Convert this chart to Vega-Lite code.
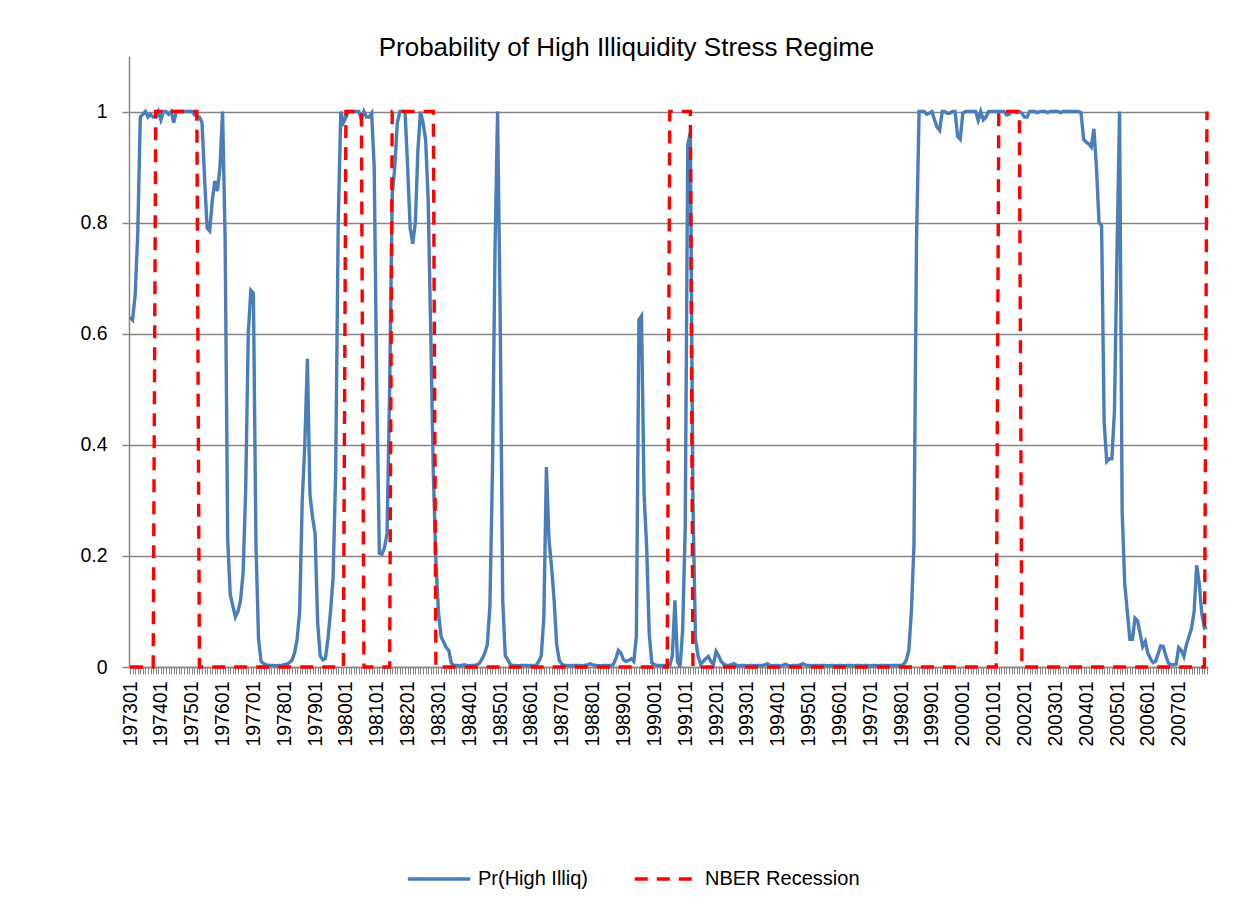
{
  "$schema": "https://vega.github.io/schema/vega-lite/v6.json",
  "width": 1079,
  "height": 611,
  "autosize": "none",
  "padding": {"left": 129, "top": 56, "right": 38, "bottom": 243},
  "background": "white",
  "config": {"view": {"stroke": null}, "font": "Liberation Sans"},
  "title": {"text": "Probability of High Illiquidity Stress Regime", "fontSize": 26, "font": "Liberation Sans", "fontWeight": "normal", "color": "#000000", "anchor": "middle", "dx": -42, "dy": 25, "baseline": "alphabetic", "offset": -1},
  "data": {"values": [
{"m":"197301","p":0.63,"r":0},{"m":"197302","p":0.625,"r":0},{"m":"197303","p":0.67,"r":0},{"m":"197304","p":0.78,"r":0},{"m":"197305","p":0.99,"r":0},{"m":"197306","p":0.995,"r":0},{"m":"197307","p":1,"r":0},{"m":"197308","p":0.99,"r":0},{"m":"197309","p":0.995,"r":0},{"m":"197310","p":0.99,"r":0},{"m":"197311","p":0.99,"r":1},{"m":"197312","p":1,"r":1},
{"m":"197401","p":0.985,"r":1},{"m":"197402","p":1,"r":1},{"m":"197403","p":1,"r":1},{"m":"197404","p":0.995,"r":1},{"m":"197405","p":1,"r":1},{"m":"197406","p":0.98,"r":1},{"m":"197407","p":1,"r":1},{"m":"197408","p":1,"r":1},{"m":"197409","p":1,"r":1},{"m":"197410","p":1,"r":1},{"m":"197411","p":1,"r":1},{"m":"197412","p":1,"r":1},
{"m":"197501","p":1,"r":1},{"m":"197502","p":0.995,"r":1},{"m":"197503","p":0.99,"r":1},{"m":"197504","p":0.99,"r":0},{"m":"197505","p":0.98,"r":0},{"m":"197506","p":0.88,"r":0},{"m":"197507","p":0.79,"r":0},{"m":"197508","p":0.785,"r":0},{"m":"197509","p":0.84,"r":0},{"m":"197510","p":0.875,"r":0},{"m":"197511","p":0.857,"r":0},{"m":"197512","p":0.9,"r":0},
{"m":"197601","p":1,"r":0},{"m":"197602","p":0.77,"r":0},{"m":"197603","p":0.23,"r":0},{"m":"197604","p":0.13,"r":0},{"m":"197605","p":0.11,"r":0},{"m":"197606","p":0.09,"r":0},{"m":"197607","p":0.1,"r":0},{"m":"197608","p":0.12,"r":0},{"m":"197609","p":0.17,"r":0},{"m":"197610","p":0.32,"r":0},{"m":"197611","p":0.6,"r":0},{"m":"197612","p":0.678,"r":0},
{"m":"197701","p":0.673,"r":0},{"m":"197702","p":0.22,"r":0},{"m":"197703","p":0.05,"r":0},{"m":"197704","p":0.01,"r":0},{"m":"197705","p":0.006,"r":0},{"m":"197706","p":0.004,"r":0},{"m":"197707","p":0.003,"r":0},{"m":"197708","p":0.003,"r":0},{"m":"197709","p":0.003,"r":0},{"m":"197710","p":0.002,"r":0},{"m":"197711","p":0.003,"r":0},{"m":"197712","p":0.003,"r":0},
{"m":"197801","p":0.004,"r":0},{"m":"197802","p":0.005,"r":0},{"m":"197803","p":0.008,"r":0},{"m":"197804","p":0.012,"r":0},{"m":"197805","p":0.025,"r":0},{"m":"197806","p":0.05,"r":0},{"m":"197807","p":0.1,"r":0},{"m":"197808","p":0.3,"r":0},{"m":"197809","p":0.4,"r":0},{"m":"197810","p":0.555,"r":0},{"m":"197811","p":0.31,"r":0},{"m":"197812","p":0.27,"r":0},
{"m":"197901","p":0.24,"r":0},{"m":"197902","p":0.08,"r":0},{"m":"197903","p":0.02,"r":0},{"m":"197904","p":0.013,"r":0},{"m":"197905","p":0.015,"r":0},{"m":"197906","p":0.05,"r":0},{"m":"197907","p":0.1,"r":0},{"m":"197908","p":0.16,"r":0},{"m":"197909","p":0.35,"r":0},{"m":"197910","p":0.8,"r":0},{"m":"197911","p":1,"r":0},{"m":"197912","p":0.98,"r":0},
{"m":"198001","p":0.99,"r":1},{"m":"198002","p":1,"r":1},{"m":"198003","p":1,"r":1},{"m":"198004","p":1,"r":1},{"m":"198005","p":1,"r":1},{"m":"198006","p":1,"r":1},{"m":"198007","p":0.987,"r":1},{"m":"198008","p":1,"r":0},{"m":"198009","p":0.99,"r":0},{"m":"198010","p":0.99,"r":0},{"m":"198011","p":0.997,"r":0},{"m":"198012","p":0.9,"r":0},
{"m":"198101","p":0.5,"r":0},{"m":"198102","p":0.205,"r":0},{"m":"198103","p":0.203,"r":0},{"m":"198104","p":0.215,"r":0},{"m":"198105","p":0.24,"r":0},{"m":"198106","p":0.5,"r":0},{"m":"198107","p":0.85,"r":1},{"m":"198108","p":0.9,"r":1},{"m":"198109","p":0.98,"r":1},{"m":"198110","p":1,"r":1},{"m":"198111","p":1,"r":1},{"m":"198112","p":1,"r":1},
{"m":"198201","p":0.9,"r":1},{"m":"198202","p":0.79,"r":1},{"m":"198203","p":0.762,"r":1},{"m":"198204","p":0.8,"r":1},{"m":"198205","p":0.93,"r":1},{"m":"198206","p":1,"r":1},{"m":"198207","p":0.98,"r":1},{"m":"198208","p":0.95,"r":1},{"m":"198209","p":0.84,"r":1},{"m":"198210","p":0.6,"r":1},{"m":"198211","p":0.35,"r":1},{"m":"198212","p":0.19,"r":0},
{"m":"198301","p":0.1,"r":0},{"m":"198302","p":0.055,"r":0},{"m":"198303","p":0.045,"r":0},{"m":"198304","p":0.035,"r":0},{"m":"198305","p":0.03,"r":0},{"m":"198306","p":0.007,"r":0},{"m":"198307","p":0.003,"r":0},{"m":"198308","p":0.003,"r":0},{"m":"198309","p":0.002,"r":0},{"m":"198310","p":0.003,"r":0},{"m":"198311","p":0.004,"r":0},{"m":"198312","p":0.003,"r":0},
{"m":"198401","p":0.002,"r":0},{"m":"198402","p":0.003,"r":0},{"m":"198403","p":0.003,"r":0},{"m":"198404","p":0.004,"r":0},{"m":"198405","p":0.007,"r":0},{"m":"198406","p":0.015,"r":0},{"m":"198407","p":0.025,"r":0},{"m":"198408","p":0.04,"r":0},{"m":"198409","p":0.108,"r":0},{"m":"198410","p":0.35,"r":0},{"m":"198411","p":0.75,"r":0},{"m":"198412","p":1,"r":0},
{"m":"198501","p":0.64,"r":0},{"m":"198502","p":0.12,"r":0},{"m":"198503","p":0.02,"r":0},{"m":"198504","p":0.013,"r":0},{"m":"198505","p":0.004,"r":0},{"m":"198506","p":0.003,"r":0},{"m":"198507","p":0.003,"r":0},{"m":"198508","p":0.002,"r":0},{"m":"198509","p":0.003,"r":0},{"m":"198510","p":0.003,"r":0},{"m":"198511","p":0.003,"r":0},{"m":"198512","p":0.002,"r":0},
{"m":"198601","p":0.003,"r":0},{"m":"198602","p":0.003,"r":0},{"m":"198603","p":0.003,"r":0},{"m":"198604","p":0.01,"r":0},{"m":"198605","p":0.02,"r":0},{"m":"198606","p":0.09,"r":0},{"m":"198607","p":0.36,"r":0},{"m":"198608","p":0.23,"r":0},{"m":"198609","p":0.18,"r":0},{"m":"198610","p":0.12,"r":0},{"m":"198611","p":0.04,"r":0},{"m":"198612","p":0.012,"r":0},
{"m":"198701","p":0.005,"r":0},{"m":"198702","p":0.003,"r":0},{"m":"198703","p":0.003,"r":0},{"m":"198704","p":0.002,"r":0},{"m":"198705","p":0.003,"r":0},{"m":"198706","p":0.003,"r":0},{"m":"198707","p":0.003,"r":0},{"m":"198708","p":0.003,"r":0},{"m":"198709","p":0.002,"r":0},{"m":"198710","p":0.003,"r":0},{"m":"198711","p":0.004,"r":0},{"m":"198712","p":0.006,"r":0},
{"m":"198801","p":0.004,"r":0},{"m":"198802","p":0.003,"r":0},{"m":"198803","p":0.003,"r":0},{"m":"198804","p":0.002,"r":0},{"m":"198805","p":0.003,"r":0},{"m":"198806","p":0.003,"r":0},{"m":"198807","p":0.003,"r":0},{"m":"198808","p":0.003,"r":0},{"m":"198809","p":0.004,"r":0},{"m":"198810","p":0.015,"r":0},{"m":"198811","p":0.03,"r":0},{"m":"198812","p":0.025,"r":0},
{"m":"198901","p":0.013,"r":0},{"m":"198902","p":0.01,"r":0},{"m":"198903","p":0.012,"r":0},{"m":"198904","p":0.015,"r":0},{"m":"198905","p":0.01,"r":0},{"m":"198906","p":0.055,"r":0},{"m":"198907","p":0.625,"r":0},{"m":"198908","p":0.632,"r":0},{"m":"198909","p":0.31,"r":0},{"m":"198910","p":0.216,"r":0},{"m":"198911","p":0.06,"r":0},{"m":"198912","p":0.008,"r":0},
{"m":"199001","p":0.004,"r":0},{"m":"199002","p":0.003,"r":0},{"m":"199003","p":0.003,"r":0},{"m":"199004","p":0.003,"r":0},{"m":"199005","p":0.003,"r":0},{"m":"199006","p":0.003,"r":0},{"m":"199007","p":0.003,"r":1},{"m":"199008","p":0.02,"r":1},{"m":"199009","p":0.12,"r":1},{"m":"199010","p":0.01,"r":1},{"m":"199011","p":0,"r":1},{"m":"199012","p":0.066,"r":1},
{"m":"199101","p":0.25,"r":1},{"m":"199102","p":0.94,"r":1},{"m":"199103","p":0.962,"r":1},{"m":"199104","p":0.3,"r":0},{"m":"199105","p":0.05,"r":0},{"m":"199106","p":0.02,"r":0},{"m":"199107","p":0.005,"r":0},{"m":"199108","p":0.01,"r":0},{"m":"199109","p":0.015,"r":0},{"m":"199110","p":0.019,"r":0},{"m":"199111","p":0.01,"r":0},{"m":"199112","p":0.005,"r":0},
{"m":"199201","p":0.028,"r":0},{"m":"199202","p":0.02,"r":0},{"m":"199203","p":0.01,"r":0},{"m":"199204","p":0.005,"r":0},{"m":"199205","p":0.003,"r":0},{"m":"199206","p":0.003,"r":0},{"m":"199207","p":0.004,"r":0},{"m":"199208","p":0.006,"r":0},{"m":"199209","p":0.003,"r":0},{"m":"199210","p":0.002,"r":0},{"m":"199211","p":0.003,"r":0},{"m":"199212","p":0.003,"r":0},
{"m":"199301","p":0.002,"r":0},{"m":"199302","p":0.003,"r":0},{"m":"199303","p":0.003,"r":0},{"m":"199304","p":0.002,"r":0},{"m":"199305","p":0.003,"r":0},{"m":"199306","p":0.003,"r":0},{"m":"199307","p":0.003,"r":0},{"m":"199308","p":0.004,"r":0},{"m":"199309","p":0.006,"r":0},{"m":"199310","p":0.003,"r":0},{"m":"199311","p":0.002,"r":0},{"m":"199312","p":0.003,"r":0},
{"m":"199401","p":0.003,"r":0},{"m":"199402","p":0.002,"r":0},{"m":"199403","p":0.003,"r":0},{"m":"199404","p":0.005,"r":0},{"m":"199405","p":0.003,"r":0},{"m":"199406","p":0.002,"r":0},{"m":"199407","p":0.003,"r":0},{"m":"199408","p":0.003,"r":0},{"m":"199409","p":0.003,"r":0},{"m":"199410","p":0.004,"r":0},{"m":"199411","p":0.006,"r":0},{"m":"199412","p":0.003,"r":0},
{"m":"199501","p":0.003,"r":0},{"m":"199502","p":0.002,"r":0},{"m":"199503","p":0.003,"r":0},{"m":"199504","p":0.003,"r":0},{"m":"199505","p":0.002,"r":0},{"m":"199506","p":0.003,"r":0},{"m":"199507","p":0.003,"r":0},{"m":"199508","p":0.003,"r":0},{"m":"199509","p":0.002,"r":0},{"m":"199510","p":0.003,"r":0},{"m":"199511","p":0.003,"r":0},{"m":"199512","p":0.002,"r":0},
{"m":"199601","p":0.003,"r":0},{"m":"199602","p":0.003,"r":0},{"m":"199603","p":0.002,"r":0},{"m":"199604","p":0.003,"r":0},{"m":"199605","p":0.003,"r":0},{"m":"199606","p":0.003,"r":0},{"m":"199607","p":0.002,"r":0},{"m":"199608","p":0.003,"r":0},{"m":"199609","p":0.003,"r":0},{"m":"199610","p":0.002,"r":0},{"m":"199611","p":0.003,"r":0},{"m":"199612","p":0.003,"r":0},
{"m":"199701","p":0.002,"r":0},{"m":"199702","p":0.003,"r":0},{"m":"199703","p":0.003,"r":0},{"m":"199704","p":0.002,"r":0},{"m":"199705","p":0.003,"r":0},{"m":"199706","p":0.003,"r":0},{"m":"199707","p":0.003,"r":0},{"m":"199708","p":0.002,"r":0},{"m":"199709","p":0.003,"r":0},{"m":"199710","p":0.003,"r":0},{"m":"199711","p":0.003,"r":0},{"m":"199712","p":0.003,"r":0},
{"m":"199801","p":0.003,"r":0},{"m":"199802","p":0.005,"r":0},{"m":"199803","p":0.012,"r":0},{"m":"199804","p":0.03,"r":0},{"m":"199805","p":0.1,"r":0},{"m":"199806","p":0.22,"r":0},{"m":"199807","p":0.77,"r":0},{"m":"199808","p":1,"r":0},{"m":"199809","p":1,"r":0},{"m":"199810","p":1,"r":0},{"m":"199811","p":0.995,"r":0},{"m":"199812","p":0.997,"r":0},
{"m":"199901","p":1,"r":0},{"m":"199902","p":0.985,"r":0},{"m":"199903","p":0.972,"r":0},{"m":"199904","p":0.966,"r":0},{"m":"199905","p":1,"r":0},{"m":"199906","p":1,"r":0},{"m":"199907","p":0.997,"r":0},{"m":"199908","p":0.997,"r":0},{"m":"199909","p":1,"r":0},{"m":"199910","p":1,"r":0},{"m":"199911","p":0.955,"r":0},{"m":"199912","p":0.95,"r":0},
{"m":"200001","p":0.997,"r":0},{"m":"200002","p":1,"r":0},{"m":"200003","p":1,"r":0},{"m":"200004","p":1,"r":0},{"m":"200005","p":1,"r":0},{"m":"200006","p":1,"r":0},{"m":"200007","p":0.984,"r":0},{"m":"200008","p":1,"r":0},{"m":"200009","p":0.985,"r":0},{"m":"200010","p":0.99,"r":0},{"m":"200011","p":1,"r":0},{"m":"200012","p":1,"r":0},
{"m":"200101","p":1,"r":0},{"m":"200102","p":1,"r":0},{"m":"200103","p":1,"r":1},{"m":"200104","p":1,"r":1},{"m":"200105","p":1,"r":1},{"m":"200106","p":0.994,"r":1},{"m":"200107","p":0.995,"r":1},{"m":"200108","p":1,"r":1},{"m":"200109","p":1,"r":1},{"m":"200110","p":0.998,"r":1},{"m":"200111","p":1,"r":1},{"m":"200112","p":0.997,"r":0},
{"m":"200201","p":0.99,"r":0},{"m":"200202","p":0.99,"r":0},{"m":"200203","p":1,"r":0},{"m":"200204","p":1,"r":0},{"m":"200205","p":1,"r":0},{"m":"200206","p":0.998,"r":0},{"m":"200207","p":1,"r":0},{"m":"200208","p":1,"r":0},{"m":"200209","p":1,"r":0},{"m":"200210","p":0.998,"r":0},{"m":"200211","p":1,"r":0},{"m":"200212","p":1,"r":0},
{"m":"200301","p":1,"r":0},{"m":"200302","p":1,"r":0},{"m":"200303","p":0.998,"r":0},{"m":"200304","p":1,"r":0},{"m":"200305","p":1,"r":0},{"m":"200306","p":1,"r":0},{"m":"200307","p":1,"r":0},{"m":"200308","p":1,"r":0},{"m":"200309","p":1,"r":0},{"m":"200310","p":1,"r":0},{"m":"200311","p":0.998,"r":0},{"m":"200312","p":0.95,"r":0},
{"m":"200401","p":0.945,"r":0},{"m":"200402","p":0.942,"r":0},{"m":"200403","p":0.936,"r":0},{"m":"200404","p":0.969,"r":0},{"m":"200405","p":0.9,"r":0},{"m":"200406","p":0.8,"r":0},{"m":"200407","p":0.795,"r":0},{"m":"200408","p":0.44,"r":0},{"m":"200409","p":0.37,"r":0},{"m":"200410","p":0.375,"r":0},{"m":"200411","p":0.375,"r":0},{"m":"200412","p":0.46,"r":0},
{"m":"200501","p":0.75,"r":0},{"m":"200502","p":1,"r":0},{"m":"200503","p":0.28,"r":0},{"m":"200504","p":0.15,"r":0},{"m":"200505","p":0.1,"r":0},{"m":"200506","p":0.05,"r":0},{"m":"200507","p":0.05,"r":0},{"m":"200508","p":0.088,"r":0},{"m":"200509","p":0.083,"r":0},{"m":"200510","p":0.06,"r":0},{"m":"200511","p":0.037,"r":0},{"m":"200512","p":0.046,"r":0},
{"m":"200601","p":0.025,"r":0},{"m":"200602","p":0.015,"r":0},{"m":"200603","p":0.008,"r":0},{"m":"200604","p":0.01,"r":0},{"m":"200605","p":0.024,"r":0},{"m":"200606","p":0.038,"r":0},{"m":"200607","p":0.037,"r":0},{"m":"200608","p":0.02,"r":0},{"m":"200609","p":0.007,"r":0},{"m":"200610","p":0.004,"r":0},{"m":"200611","p":0.004,"r":0},{"m":"200612","p":0.005,"r":0},
{"m":"200701","p":0.035,"r":0},{"m":"200702","p":0.03,"r":0},{"m":"200703","p":0.019,"r":0},{"m":"200704","p":0.04,"r":0},{"m":"200705","p":0.055,"r":0},{"m":"200706","p":0.07,"r":0},{"m":"200707","p":0.1,"r":0},{"m":"200708","p":0.183,"r":0},{"m":"200709","p":0.15,"r":0},{"m":"200710","p":0.096,"r":0},{"m":"200711","p":0.07,"r":0},{"m":"200712","p":0.072,"r":1}
  ]},
  "transform": [{"fold": ["p", "r"], "as": ["series", "value"]}],
  "mark": {"type": "line", "strokeWidth": 3.4, "strokeCap": "butt"},
  "encoding": {
    "x": {
      "field": "m", "type": "ordinal", "sort": null,
      "scale": {"type": "point", "padding": 0.4},
      "axis": {
        "title": null, "labelAngle": -90, "labelOverlap": false,
        "labelExpr": "substring(datum.label, 4) == '01' ? datum.label : ''",
        "labelFont": "Liberation Sans", "labelFontSize": 19.5, "labelColor": "#000000",
        "labelPadding": 7, "tickSize": 7, "tickColor": "#868686", "tickWidth": 1,
        "domainColor": "#868686", "domainWidth": 1.5, "grid": false
      }
    },
    "y": {
      "field": "value", "type": "quantitative",
      "scale": {"domain": [0, 1.1], "nice": false, "zero": true},
      "axis": {
        "title": null, "values": [0, 0.2, 0.4, 0.6, 0.8, 1], "format": "~g",
        "labelFont": "Liberation Sans", "labelFontSize": 19.5, "labelColor": "#000000",
        "labelPadding": 15, "tickSize": 7, "tickColor": "#868686", "tickWidth": 1.5,
        "domainColor": "#868686", "domainWidth": 1.5,
        "grid": true, "gridColor": "#868686", "gridWidth": 1.6
      }
    },
    "color": {
      "field": "series", "type": "nominal",
      "scale": {"domain": ["p", "r"], "range": ["#4A7EBB", "#FF0000"]},
      "legend": {
        "title": null, "orient": "none", "direction": "horizontal",
        "legendX": 277, "legendY": 790,
        "labelExpr": "datum.label == 'p' ? 'Pr(High Illiq)' : 'NBER Recession'",
        "labelFont": "Liberation Sans", "labelFontSize": 20, "labelColor": "#000000",
        "symbolType": "stroke", "symbolSize": 3900, "symbolStrokeWidth": 3.5,
        "labelOffset": 6, "columnPadding": 38, "padding": 0
      }
    },
    "strokeDash": {
      "field": "series", "type": "nominal",
      "scale": {"domain": ["p", "r"], "range": [[1, 0], [13, 9]]},
      "legend": {
        "title": null, "orient": "none", "direction": "horizontal",
        "legendX": 277, "legendY": 790,
        "labelExpr": "datum.label == 'p' ? 'Pr(High Illiq)' : 'NBER Recession'",
        "labelFont": "Liberation Sans", "labelFontSize": 20, "labelColor": "#000000",
        "symbolType": "stroke", "symbolSize": 3900, "symbolStrokeWidth": 3.5,
        "labelOffset": 6, "columnPadding": 38, "padding": 0
      }
    }
  }
}
